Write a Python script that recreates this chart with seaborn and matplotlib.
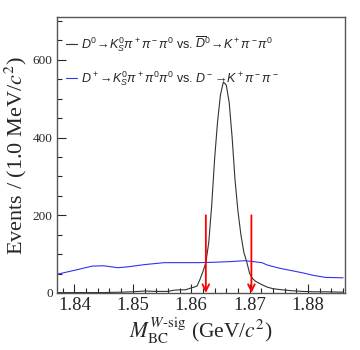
import matplotlib
matplotlib.use("Agg")
import matplotlib.pyplot as plt
from matplotlib.ticker import MultipleLocator
import seaborn as sns
import pandas as pd

# Black curve: D0 -> KS pi+ pi- pi0 vs. D0bar -> K+ pi- pi0
x_d0 = [1.837, 1.840, 1.845, 1.848, 1.850, 1.852, 1.854, 1.856, 1.857, 1.858,
        1.859, 1.860, 1.8605, 1.861, 1.8615, 1.862, 1.8625, 1.863, 1.8635, 1.864,
        1.8645, 1.865, 1.8655, 1.866, 1.8665, 1.867, 1.8675, 1.868, 1.8685, 1.869,
        1.8695, 1.870, 1.8705, 1.871, 1.872, 1.873, 1.874, 1.875, 1.877, 1.879,
        1.881, 1.883, 1.886]
y_d0 = [1, 1, 1, 2, 3, 5, 4, 4, 7, 8,
        8, 13, 15, 18, 35, 55, 78, 130, 225, 345,
        440, 510, 543, 535, 490, 400, 290, 210, 150, 105,
        80, 50, 37, 30, 22, 15, 11, 9, 6, 4,
        3, 3, 2]

# Blue curve: D+ -> KS pi+ pi0 pi0 vs. D- -> K+ pi- pi-
x_dp = [1.837, 1.8405, 1.843, 1.845, 1.8474, 1.849, 1.852, 1.8554, 1.858, 1.861,
        1.864, 1.867, 1.8692, 1.871, 1.8721, 1.873, 1.875, 1.877, 1.879, 1.881,
        1.883, 1.886]
y_dp = [48, 60, 69, 70, 65, 67, 73, 78, 78, 78,
        79, 81, 83, 80, 78, 72, 64, 58, 52, 45,
        40, 39]

labels = [r"$D^0\!\rightarrow\! K^0_S\pi^+\pi^-\pi^0$ vs. $\overline{D}^0\!\rightarrow\! K^+\pi^-\pi^0$",
          r"$D^+\!\rightarrow\! K^0_S\pi^+\pi^0\pi^0$ vs. $D^-\!\rightarrow\! K^+\pi^-\pi^-$"]
arrow_x = [1.8625, 1.8703]
arrow_top = 200

sns.set_theme(style="ticks")
plt.rcParams["font.family"] = ["Liberation Serif", "DejaVu Serif"]
plt.rcParams["mathtext.fontset"] = "custom"
plt.rcParams["mathtext.rm"] = "Liberation Sans"
plt.rcParams["mathtext.it"] = "Liberation Sans:italic"
plt.rcParams["mathtext.bf"] = "Liberation Sans:bold"
plt.rcParams["mathtext.sf"] = "Liberation Sans"

fig = plt.figure(figsize=(3.6, 3.5), dpi=100)
ax = fig.add_axes([0.158, 0.163, 0.800, 0.788])

df_d0 = pd.DataFrame({"x": x_d0, "y": y_d0})
df_dp = pd.DataFrame({"x": x_dp, "y": y_dp})
sns.lineplot(data=df_d0, x="x", y="y", ax=ax, color="#333333", lw=0.8,
             label=labels[0], sort=True)
sns.lineplot(data=df_dp, x="x", y="y", ax=ax, color="#3333ee", lw=0.8,
             label=labels[1], sort=True)

for xa in arrow_x:
    ax.annotate("", xy=(xa, 0), xytext=(xa, arrow_top),
                arrowprops=dict(arrowstyle="->", color="#ff0000", lw=1.3,
                                shrinkA=0, shrinkB=0, mutation_scale=12))

ax.set_xlim(1.8370, 1.8863)
ax.set_ylim(0, 710)
ax.xaxis.set_major_locator(MultipleLocator(0.01))
ax.xaxis.set_minor_locator(MultipleLocator(0.002))
ax.yaxis.set_major_locator(MultipleLocator(200))
ax.yaxis.set_minor_locator(MultipleLocator(50))
ax.tick_params(which="major", direction="in", length=6.5, width=0.8,
               top=False, right=False, pad=3)
ax.tick_params(which="minor", direction="in", length=3.5, width=0.8,
               top=False, right=False)
ax.tick_params(axis="x", labelsize=13.5)
ax.tick_params(axis="y", labelsize=9.5)
ax.set_xticklabels([f"{t:.2f}" for t in ax.get_xticks()])
for s in ax.spines.values():
    s.set_color("#555555")
    s.set_linewidth(1.0)

ax.set_xlabel(r"$M_{\rm BC}^{W\text{-}{\rm sig}}$ (GeV/$c^2$)", fontsize=15.5,
              labelpad=1, math_fontfamily="stix")
ax.set_ylabel(r"Events / (1.0 MeV/$c^2$)", fontsize=16, labelpad=3,
              math_fontfamily="stix")

leg = ax.legend(loc="upper left", bbox_to_anchor=(0.0, 0.97), frameon=False,
                handlelength=0.9, handletextpad=0.3, labelspacing=1.25,
                borderaxespad=0.3,
                prop={"family": ["Liberation Sans", "DejaVu Sans"], "size": 9.0})

fig.savefig("out.png", dpi=100)
